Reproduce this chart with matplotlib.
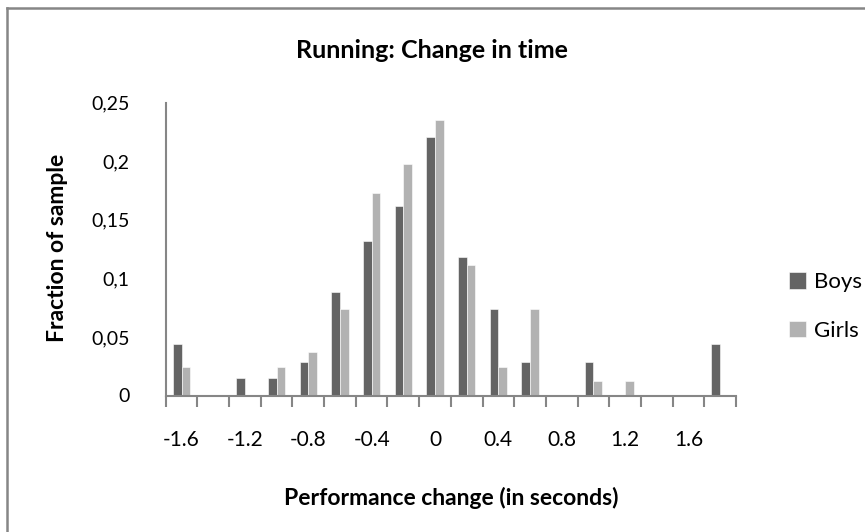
import matplotlib.pyplot as plt
import numpy as np
from matplotlib.lines import Line2D

plt.rcParams['font.family'] = ['Lato', 'DejaVu Sans']

# bucket centres of the change in running time (seconds)
categories = [-1.6, -1.4, -1.2, -1.0, -0.8, -0.6, -0.4, -0.2, 0.0,
              0.2, 0.4, 0.6, 0.8, 1.0, 1.2, 1.4, 1.6, 1.8]
boys = [0.044, 0, 0.015, 0.015, 0.029, 0.088, 0.132, 0.162, 0.221,
        0.118, 0.074, 0.029, 0, 0.029, 0, 0, 0, 0.044]
girls = [0.024, 0, 0, 0.024, 0.037, 0.074, 0.173, 0.198, 0.235,
         0.111, 0.024, 0.074, 0, 0.012, 0.012, 0, 0, 0]
tick_labels = ["-1.6", "-1.2", "-0.8", "-0.4", "0", "0.4", "0.8", "1.2", "1.6"]
y_ticks = [0, 0.05, 0.1, 0.15, 0.2, 0.25]
y_labels = ["0", "0,05", "0,1", "0,15", "0,2", "0,25"]

W, H = 865, 532
fig = plt.figure(figsize=(W / 100, H / 100), dpi=100)
ax = fig.add_axes([165.7 / W, 1 - 395.5 / H, (736 - 165.7) / W,
                   (395.5 - 102.7) / H])

axis_grey = "#868686"
x = np.arange(len(categories))
width = 0.275
ax.bar(x - width / 2, boys, width, color="#646464", edgecolor="white",
       linewidth=0.4, label="Boys", zorder=2)
ax.bar(x + width / 2, girls, width, color="#b2b2b2", edgecolor="white",
       linewidth=0.4, label="Girls", zorder=2)

ax.set_xlim(-0.5, len(categories) - 0.5)
ax.set_ylim(0, 0.25)

ax.set_xticks(x[::2])
ax.set_xticklabels(tick_labels, fontsize=15)
ax.set_xticks(np.arange(-0.5, len(categories)), minor=True)
ax.tick_params(axis="x", which="major", length=0, pad=25)
ax.tick_params(axis="x", which="minor", length=8, width=1.5,
               color=axis_grey, direction="out")

ax.set_yticks(y_ticks)
ax.set_yticklabels(y_labels, fontsize=14)
ax.tick_params(axis="y", length=0, pad=26)

for side in ["top", "right"]:
    ax.spines[side].set_visible(False)
for side in ["left", "bottom"]:
    ax.spines[side].set_color(axis_grey)
    ax.spines[side].set_linewidth(1.5)

fig.text(432 / W, 1 - 50 / H, "Running: Change in time", fontsize=18,
         fontweight="bold", ha="center", va="center")
fig.text(451 / W, 1 - 498 / H, "Performance change (in seconds)",
         fontsize=16.5, fontweight="bold", ha="center", va="center")
fig.text(58 / W, 1 - 248 / H, "Fraction of sample", fontsize=16.5,
         fontweight="bold", ha="center", va="center", rotation=90)

leg = fig.legend(loc="upper left", bbox_to_anchor=(778 / W, 1 - 261 / H),
                 frameon=False, fontsize=16, handlelength=0.75,
                 handleheight=0.75, handletextpad=0.35, labelspacing=1.3,
                 borderpad=0)

# chart-area border (left and top edges visible)
fig.add_artist(Line2D([7 / W, 7 / W], [0, 1 - 8 / H],
                      transform=fig.transFigure, color=axis_grey, lw=1.8))
fig.add_artist(Line2D([7 / W, 1], [1 - 8 / H, 1 - 8 / H],
                      transform=fig.transFigure, color=axis_grey, lw=1.8))

fig.savefig("out.png", dpi=100)
